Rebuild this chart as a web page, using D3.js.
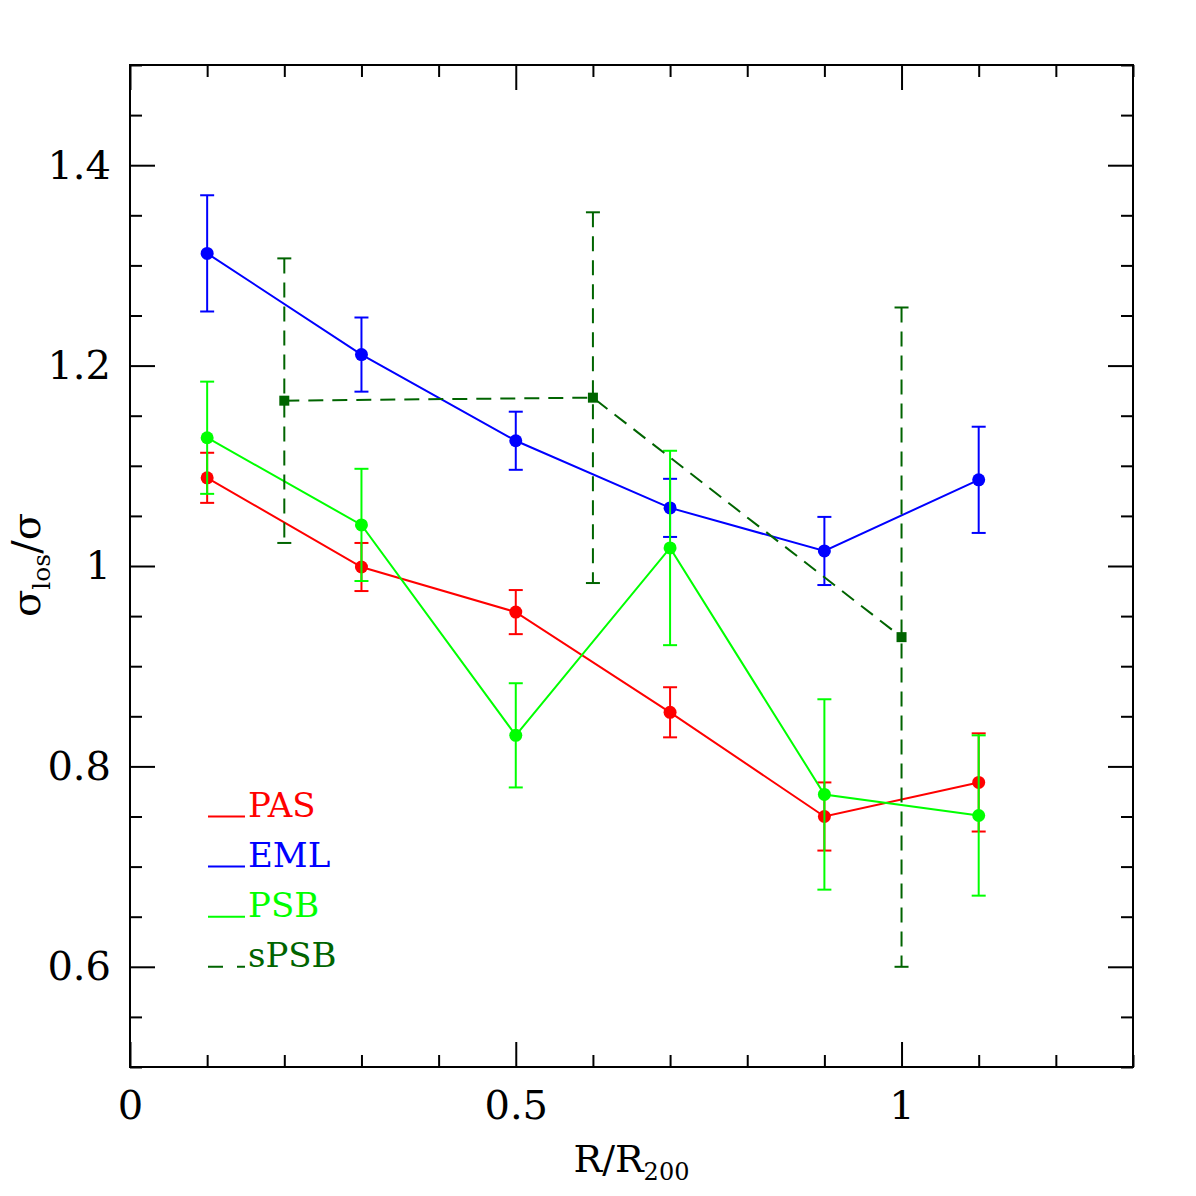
<!DOCTYPE html>
<html>
<head>
<meta charset="utf-8">
<script src="https://cdn.jsdelivr.net/npm/d3@7"></script>
<style>
  body { margin: 0; background: #fff; }
  svg text { font-family: "DejaVu Serif", "Liberation Serif", serif; }
</style>
</head>
<body>
<div id="chart"></div>
<script>
// bins em R/R200
const xBins = [0.1, 0.3, 0.5, 0.7, 0.9, 1.1];

// PAS
const pasVal = [1.088, 0.999, 0.954, 0.854, 0.750, 0.784];
const pasErr = [0.025, 0.024, 0.022, 0.025, 0.034, 0.049];
// EML
const emlVal = [1.312, 1.211, 1.125, 1.058, 1.015, 1.086];
const emlErr = [0.058, 0.037, 0.029, 0.029, 0.034, 0.053];
// PSB
const psbVal = [1.128, 1.041, 0.831, 1.018, 0.772, 0.751];
const psbErr = [0.056, 0.056, 0.052, 0.097, 0.095, 0.080];
// sPSB (bins mais largos)
const spsbX = [0.2, 0.6, 1.0];
const spsbVal = [1.165, 1.168, 0.929];
const spsbErr = [0.142, 0.185, 0.329];

const xMajor = [0, 0.5, 1];
const xMajorLabels = ["0", "0.5", "1"];
const yMajor = [0.6, 0.8, 1.0, 1.2, 1.4];
const yMajorLabels = ["0.6", "0.8", "1", "1.2", "1.4"];

const series = [
  { name: "PAS", x: xBins, y: pasVal, e: pasErr, color: "#ff0000", dashed: false, shape: "circle" },
  { name: "EML", x: xBins, y: emlVal, e: emlErr, color: "#0000ff", dashed: false, shape: "circle" },
  { name: "PSB", x: xBins, y: psbVal, e: psbErr, color: "#00ff00", dashed: false, shape: "circle" },
  { name: "sPSB", x: spsbX, y: spsbVal, e: spsbErr, color: "#006400", dashed: true, shape: "square" }
];

const width = 1196, height = 1196;
const margin = { left: 130, top: 65, right: 63, bottom: 129 };
const w = width - margin.left - margin.right;
const h = height - margin.top - margin.bottom;

const svg = d3.select("#chart").append("svg")
  .attr("width", width)
  .attr("height", height);

const g = svg.append("g")
  .attr("transform", `translate(${margin.left},${margin.top})`);

const x = d3.scaleLinear().domain([0, 1.3]).range([0, w]);
const y = d3.scaleLinear().domain([0.5, 1.5]).range([h, 0]);

// ticks menores (x a cada 0.1, y a cada 0.05)
const xMinor = d3.range(0, 1.3001, 0.1).filter(v => !xMajor.some(m => Math.abs(m - v) < 1e-6));
const yMinor = d3.range(0.5, 1.5001, 0.05).filter(v => !yMajor.some(m => Math.abs(m - v) < 1e-6));

function drawAxis(axisFn, scale, values, size, transform, labels, pad) {
  const ax = g.append("g")
    .attr("transform", transform)
    .call(axisFn(scale).tickValues(values).tickSize(-size).tickPadding(pad || 0)
      .tickFormat((d, i) => labels ? labels[i] : ""));
  ax.select(".domain").remove();
  ax.selectAll("line").attr("stroke", "#000").attr("stroke-width", 2);
  ax.selectAll("text").attr("fill", "#000").style("font-size", "40px");
  return ax;
}

// eixos nos quatro lados, ticks para dentro
drawAxis(d3.axisBottom, x, xMajor, 25, `translate(0,${h})`, xMajorLabels, 24);
drawAxis(d3.axisBottom, x, xMinor, 12, `translate(0,${h})`, null);
drawAxis(d3.axisTop, x, xMajor, 25, "translate(0,0)", null);
drawAxis(d3.axisTop, x, xMinor, 12, "translate(0,0)", null);
drawAxis(d3.axisLeft, y, yMajor, 25, "translate(0,0)", yMajorLabels, 19);
drawAxis(d3.axisLeft, y, yMinor, 12, "translate(0,0)", null);
drawAxis(d3.axisRight, y, yMajor, 25, `translate(${w},0)`, null);
drawAxis(d3.axisRight, y, yMinor, 12, `translate(${w},0)`, null);

g.append("rect")
  .attr("width", w).attr("height", h)
  .attr("fill", "none").attr("stroke", "#000").attr("stroke-width", 2);

// séries
const line = d3.line().x(d => x(d.x)).y(d => y(d.y));
const dash = "15,9";
const capW = 7;

series.forEach(s => {
  const pts = s.x.map((xv, i) => ({ x: xv, y: s.y[i], e: s.e[i] }));
  const sg = g.append("g");

  sg.append("path")
    .datum(pts)
    .attr("fill", "none")
    .attr("stroke", s.color)
    .attr("stroke-width", 2)
    .attr("stroke-dasharray", s.dashed ? dash : null)
    .attr("d", line);

  const eb = sg.selectAll(".eb").data(pts).enter().append("g");
  eb.append("line")
    .attr("x1", d => x(d.x)).attr("x2", d => x(d.x))
    .attr("y1", d => y(d.y + d.e)).attr("y2", d => y(d.y - d.e))
    .attr("stroke", s.color).attr("stroke-width", 2)
    .attr("stroke-dasharray", s.dashed ? dash : null);
  [1, -1].forEach(sign => {
    eb.append("line")
      .attr("x1", d => x(d.x) - capW).attr("x2", d => x(d.x) + capW)
      .attr("y1", d => y(d.y + sign * d.e)).attr("y2", d => y(d.y + sign * d.e))
      .attr("stroke", s.color).attr("stroke-width", 2);
  });

  if (s.shape === "circle") {
    sg.selectAll(".pt").data(pts).enter().append("circle")
      .attr("cx", d => x(d.x)).attr("cy", d => y(d.y))
      .attr("r", 6.5).attr("fill", s.color);
  } else {
    sg.selectAll(".pt").data(pts).enter().append("rect")
      .attr("x", d => x(d.x) - 5).attr("y", d => y(d.y) - 5)
      .attr("width", 10).attr("height", 10).attr("fill", s.color);
  }
});

// legenda
const legY = [0.75, 0.70, 0.65, 0.60];
series.forEach((s, i) => {
  const ly = y(legY[i]);
  g.append("line")
    .attr("x1", 78).attr("x2", 115)
    .attr("y1", ly).attr("y2", ly)
    .attr("stroke", s.color).attr("stroke-width", 2)
    .attr("stroke-dasharray", s.dashed ? "15,14" : null);
  g.append("text")
    .attr("x", 118).attr("y", ly)
    .attr("fill", s.color)
    .style("font-size", "34px")
    .text(s.name);
});

// título do eixo x
const xt = svg.append("text")
  .attr("x", margin.left + w / 2)
  .attr("y", 1172)
  .attr("text-anchor", "middle")
  .style("font-size", "38px");
xt.append("tspan").text("R/R");
xt.append("tspan").attr("dy", 8).style("font-size", "24px").text("200");

// título do eixo y
const yt = svg.append("text")
  .attr("transform", "translate(40,565) rotate(-90)")
  .attr("text-anchor", "middle")
  .style("font-size", "40px");
yt.append("tspan").text("σ");
yt.append("tspan").attr("dy", 10).style("font-size", "25px").text("los");
yt.append("tspan").attr("dy", -10).text("/σ");
</script>
</body>
</html>
